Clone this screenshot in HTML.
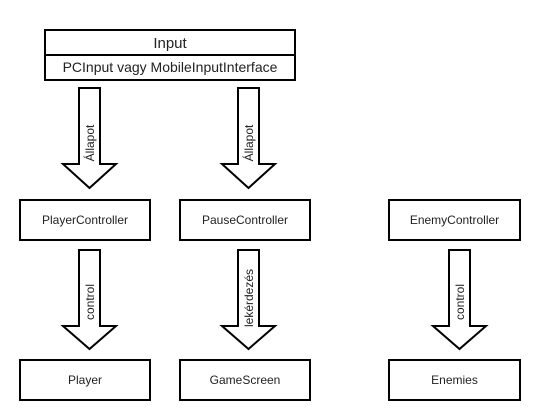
<!DOCTYPE html>
<html><head><meta charset="utf-8"><style>
body{margin:0;background:#fff;}
svg{display:block;font-family:"Liberation Sans",Helvetica,Arial,sans-serif;}
</style></head><body>
<svg width="555" height="420" viewBox="0 0 555 420" xmlns="http://www.w3.org/2000/svg">
<g fill="#fff" stroke="#000" stroke-width="2">
<rect x="45" y="30" width="250" height="50"/>
<line x1="45" y1="55" x2="295" y2="55"/>
<rect x="20" y="200" width="130" height="40"/>
<rect x="180" y="200" width="130" height="40"/>
<rect x="389" y="200" width="131" height="40"/>
<rect x="20" y="360" width="130" height="40"/>
<rect x="180" y="360" width="130" height="40"/>
<rect x="389" y="360" width="131" height="40"/>
<polygon points="79,88 100,88 100,164 116,164 89.5,188 63,164 79,164"/>
<polygon points="238,88 259,88 259,164 275,164 248.5,188 222,164 238,164"/>
<polygon points="79,250 100,250 100,326 116,326 89.5,349 63,326 79,326"/>
<polygon points="238,250 259,250 259,326 275,326 248.5,349 222,326 238,326"/>
<polygon points="449,250 470,250 470,326 486,326 459.5,349 433,326 449,326"/>
</g>
<g fill="#222" font-size="12" text-anchor="middle">
<text x="170" y="48" font-size="15">Input</text>
<text x="170" y="72" font-size="14">PCInput vagy MobileInputInterface</text>
<text x="85" y="224">PlayerController</text>
<text x="245" y="224">PauseController</text>
<text x="454.5" y="224">EnemyController</text>
<text x="85" y="384">Player</text>
<text x="245" y="384">GameScreen</text>
<text x="454.5" y="384">Enemies</text>
<text transform="translate(94,143) rotate(-90)">Állapot</text>
<text transform="translate(253,143) rotate(-90)">Állapot</text>
<text transform="translate(94,302) rotate(-90)">control</text>
<text transform="translate(253,298) rotate(-90)">lekérdezés</text>
<text transform="translate(464,302) rotate(-90)">control</text>
</g>
</svg>
</body></html>
